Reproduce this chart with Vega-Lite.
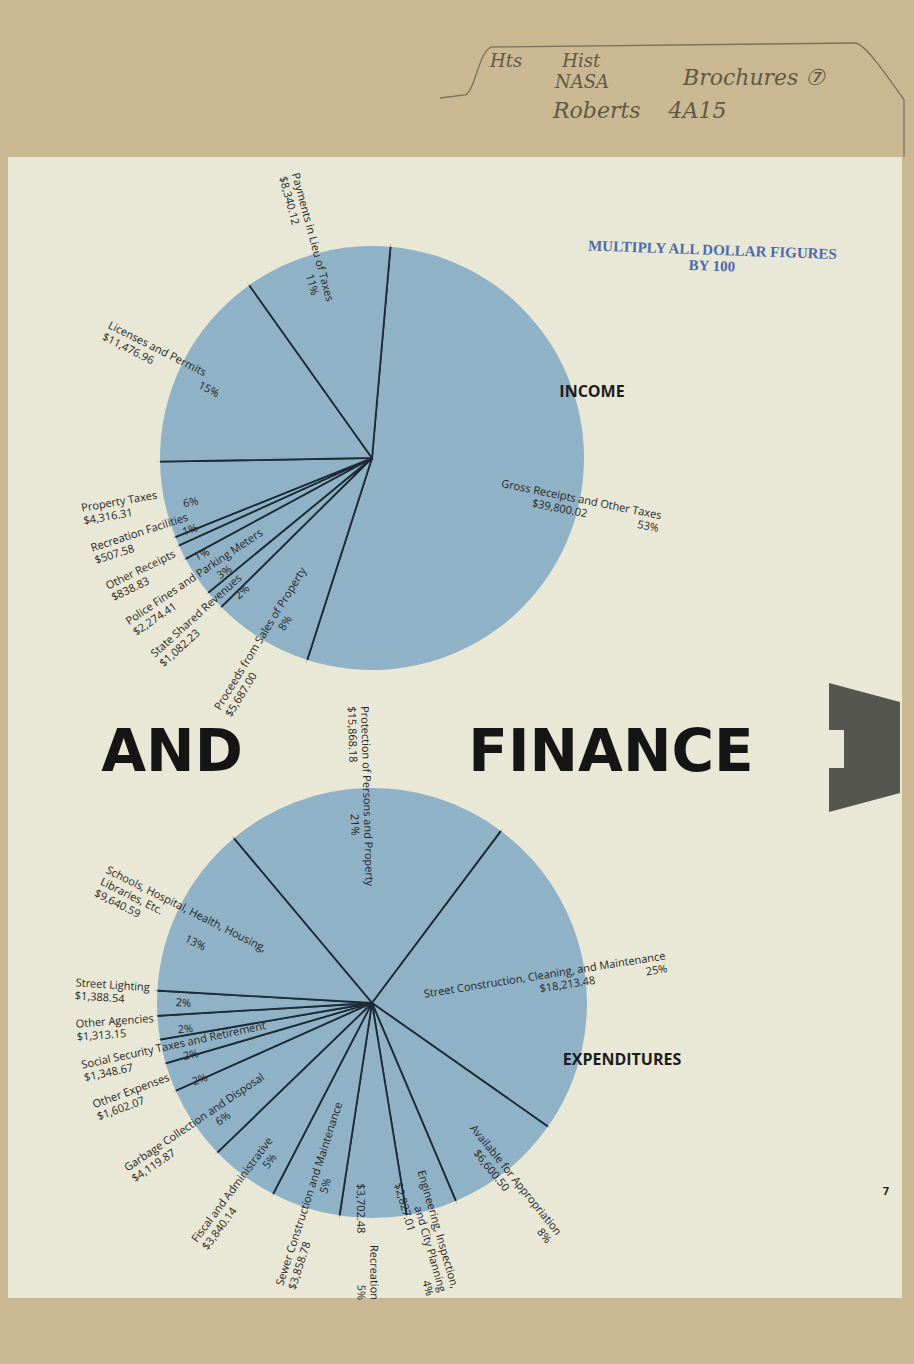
{
  "$schema": "https://vega.github.io/schema/vega-lite/v6.json",
  "width": 894,
  "height": 1141,
  "autosize": {"type": "none"},
  "padding": {"left": 8, "top": 157, "right": 12, "bottom": 66},
  "background": "#cab892",
  "config": {"view": {"stroke": null, "fill": "#e9e8d6"}, "text": {"font": "Open Sans"}},
  "datasets": {
    "budget": [
      {"pie": "Income", "item": "Gross Receipts and Other Taxes", "amount": 39800.02, "pct": 53},
      {"pie": "Income", "item": "Proceeds from Sales of Property", "amount": 5687.00, "pct": 8},
      {"pie": "Income", "item": "State Shared Revenues", "amount": 1082.23, "pct": 2},
      {"pie": "Income", "item": "Police Fines and Parking Meters", "amount": 2274.41, "pct": 3},
      {"pie": "Income", "item": "Other Receipts", "amount": 838.83, "pct": 1},
      {"pie": "Income", "item": "Recreation Facilities", "amount": 507.58, "pct": 1},
      {"pie": "Income", "item": "Property Taxes", "amount": 4316.31, "pct": 6},
      {"pie": "Income", "item": "Licenses and Permits", "amount": 11476.96, "pct": 15},
      {"pie": "Income", "item": "Payments in Lieu of Taxes", "amount": 8340.12, "pct": 11},
      {"pie": "Expenditures", "item": "Protection of Persons and Property", "amount": 15868.18, "pct": 21},
      {"pie": "Expenditures", "item": "Street Construction, Cleaning, and Maintenance", "amount": 18213.48, "pct": 25},
      {"pie": "Expenditures", "item": "Available for Appropriation", "amount": 6600.50, "pct": 8},
      {"pie": "Expenditures", "item": "Engineering, Inspection,\nand City Planning", "amount": 2827.01, "pct": 4},
      {"pie": "Expenditures", "item": "Recreation", "amount": 3702.48, "pct": 5},
      {"pie": "Expenditures", "item": "Sewer Construction and Maintenance", "amount": 3858.78, "pct": 5},
      {"pie": "Expenditures", "item": "Fiscal and Administrative", "amount": 3840.14, "pct": 5},
      {"pie": "Expenditures", "item": "Garbage Collection and Disposal", "amount": 4119.87, "pct": 6},
      {"pie": "Expenditures", "item": "Other Expenses", "amount": 1602.07, "pct": 2},
      {"pie": "Expenditures", "item": "Social Security Taxes and Retirement", "amount": 1348.67, "pct": 2},
      {"pie": "Expenditures", "item": "Other Agencies", "amount": 1313.15, "pct": 2},
      {"pie": "Expenditures", "item": "Street Lighting", "amount": 1388.54, "pct": 2},
      {"pie": "Expenditures", "item": "Schools, Hospital, Health, Housing,\nLibraries, Etc.", "amount": 9640.59, "pct": 13}
    ]
  },
  "encoding": {
    "x": {"field": "pie", "type": "nominal", "scale": {"type": "point", "domain": ["Income", "Expenditures"], "range": [364, 364], "padding": 0}, "axis": null},
    "y": {"field": "pie", "type": "nominal", "scale": {"type": "point", "domain": ["Income", "Expenditures"], "range": [301, 846], "padding": 0}, "axis": null}
  },
  "layer": [
    {
      "data": {"name": "budget"},
      "transform": [
        {"filter": "datum.pie === 'Income'"},
        {"window": [{"op": "row_number", "as": "idx"}]},
        {"joinaggregate": [{"op": "sum", "field": "amount", "as": "total"}]},
        {"stack": "amount", "groupby": ["pie"], "sort": [{"field": "idx", "order": "ascending"}], "as": ["v0", "v1"]},
        {"calculate": "(datum.v0 + datum.v1) / 2 - datum.idx * datum.total * 8 / 360", "as": "adj"},
        {"window": [{"op": "max", "field": "adj", "as": "cm"}], "sort": [{"field": "idx", "order": "ascending"}], "frame": [null, 0]},
        {"calculate": "datum.cm + datum.idx * datum.total * 8 / 360", "as": "lab"},
        {"calculate": "((5 + datum.lab / datum.total * 360) % 360 + 360) % 360", "as": "deg"},
        {"calculate": "datum.deg < 180 ? datum.deg - 90 : datum.deg - 270", "as": "rot"},
        {"calculate": "datum.item + '\\n$' + format(datum.amount, ',.2f') + '\u00a0\u00a0\u00a0\u00a0\u00a0\u00a0\u00a0\u00a0\u00a0\u00a0\u00a0\u00a0\u00a0\u00a0\u00a0\u00a0\u00a0\u00a0' + datum.pct + '%'", "as": "label"}
      ],
      "layer": [
        {
          "mark": {"type": "arc", "outerRadius": 214, "fill": "#8fb2c6", "stroke": "#1d2b37", "strokeWidth": 1.8},
          "encoding": {
            "theta": {"field": "v0", "type": "quantitative", "scale": {"domain": [0, 74323.46], "range": [0.0872665, 6.3704518], "zero": true, "nice": false}},
            "theta2": {"field": "v1"}
          }
        },
        {
          "mark": {"type": "arc", "innerRadius": 212, "outerRadius": 218, "fill": "#e9e8d6"},
          "encoding": {
            "theta": {"field": "v0", "type": "quantitative"},
            "theta2": {"field": "v1"}
          }
        },
        {
          "transform": [{"filter": "datum.deg >= 180"}],
          "mark": {"type": "text", "radius": 295, "align": "left", "baseline": "middle", "lineBreak": "\n", "lineHeight": 13, "fontSize": 11, "fill": "#262626"},
          "encoding": {
            "theta": {"field": "lab", "type": "quantitative", "stack": null},
            "angle": {"field": "rot", "type": "quantitative", "scale": null},
            "text": {"field": "label"}
          }
        },
        {
          "transform": [{"filter": "datum.deg < 180"}],
          "mark": {"type": "text", "radius": 295, "align": "right", "baseline": "middle", "lineBreak": "\n", "lineHeight": 13, "fontSize": 11, "fill": "#262626"},
          "encoding": {
            "theta": {"field": "lab", "type": "quantitative", "stack": null},
            "angle": {"field": "rot", "type": "quantitative", "scale": null},
            "text": {"field": "label"}
          }
        }
      ]
    },
    {
      "data": {"name": "budget"},
      "transform": [
        {"filter": "datum.pie === 'Expenditures'"},
        {"window": [{"op": "row_number", "as": "idx"}]},
        {"joinaggregate": [{"op": "sum", "field": "amount", "as": "total"}]},
        {"stack": "amount", "groupby": ["pie"], "sort": [{"field": "idx", "order": "ascending"}], "as": ["v0", "v1"]},
        {"calculate": "(datum.v0 + datum.v1) / 2 - datum.idx * datum.total * 8 / 360", "as": "adj"},
        {"window": [{"op": "max", "field": "adj", "as": "cm"}], "sort": [{"field": "idx", "order": "ascending"}], "frame": [null, 0]},
        {"calculate": "datum.cm + datum.idx * datum.total * 8 / 360", "as": "lab"},
        {"calculate": "((-40 + datum.lab / datum.total * 360) % 360 + 360) % 360", "as": "deg"},
        {"calculate": "datum.deg < 180 ? datum.deg - 90 : datum.deg - 270", "as": "rot"},
        {"calculate": "datum.item + '\\n$' + format(datum.amount, ',.2f') + '\u00a0\u00a0\u00a0\u00a0\u00a0\u00a0\u00a0\u00a0\u00a0\u00a0\u00a0\u00a0\u00a0\u00a0\u00a0\u00a0\u00a0\u00a0' + datum.pct + '%'", "as": "label"}
      ],
      "layer": [
        {
          "mark": {"type": "arc", "outerRadius": 217, "fill": "#8fb2c6", "stroke": "#1d2b37", "strokeWidth": 1.8},
          "encoding": {
            "theta": {"field": "v0", "type": "quantitative", "scale": {"domain": [0, 74323.46], "range": [-0.6981317, 5.5850536], "zero": true, "nice": false}},
            "theta2": {"field": "v1"}
          }
        },
        {
          "mark": {"type": "arc", "innerRadius": 215, "outerRadius": 221, "fill": "#e9e8d6"},
          "encoding": {
            "theta": {"field": "v0", "type": "quantitative"},
            "theta2": {"field": "v1"}
          }
        },
        {
          "transform": [{"filter": "datum.deg >= 180"}],
          "mark": {"type": "text", "radius": 297, "align": "left", "baseline": "middle", "lineBreak": "\n", "lineHeight": 13, "fontSize": 11, "fill": "#262626"},
          "encoding": {
            "theta": {"field": "lab", "type": "quantitative", "stack": null},
            "angle": {"field": "rot", "type": "quantitative", "scale": null},
            "text": {"field": "label"}
          }
        },
        {
          "transform": [{"filter": "datum.deg < 180"}],
          "mark": {"type": "text", "radius": 297, "align": "right", "baseline": "middle", "lineBreak": "\n", "lineHeight": 13, "fontSize": 11, "fill": "#262626"},
          "encoding": {
            "theta": {"field": "lab", "type": "quantitative", "stack": null},
            "angle": {"field": "rot", "type": "quantitative", "scale": null},
            "text": {"field": "label"}
          }
        }
      ]
    },
    {
      "data": {"values": [{"pie": "Income", "caption": "INCOME"}]},
      "mark": {"type": "text", "dx": 220, "dy": -66, "fontSize": 16, "fontWeight": "bold", "fill": "#1c1c1c"},
      "encoding": {"text": {"field": "caption"}}
    },
    {
      "data": {"values": [{"pie": "Expenditures", "caption": "EXPENDITURES"}]},
      "mark": {"type": "text", "dx": 250, "dy": 57, "fontSize": 16, "fontWeight": "bold", "fill": "#1c1c1c"},
      "encoding": {"text": {"field": "caption"}}
    },
    {
      "data": {"values": [{"pie": "Income", "word": "AND"}]},
      "mark": {"type": "text", "dx": -200, "dy": 296, "font": "DejaVu Sans", "fontSize": 58, "fontWeight": "bold", "fill": "#151515"},
      "encoding": {"text": {"field": "word"}}
    },
    {
      "data": {"values": [{"pie": "Income", "word": "FINANCE"}]},
      "mark": {"type": "text", "dx": 239, "dy": 296, "font": "DejaVu Sans", "fontSize": 58, "fontWeight": "bold", "fill": "#151515"},
      "encoding": {"text": {"field": "word"}}
    },
    {
      "data": {"values": [{"pie": "Income", "tab": "notch"}]},
      "mark": {"type": "point", "shape": "M -0.55 -1 L 0.55 -0.705 L 0.55 0.705 L -0.55 1 L -0.55 0.318 L -0.318 0.318 L -0.318 -0.271 L -0.55 -0.271 Z", "size": 16641, "filled": true, "fill": "#55564f", "opacity": 1, "strokeWidth": 0, "xOffset": 492.5, "yOffset": 289.5},
      "encoding": {}
    },
    {
      "data": {"values": [{"pie": "Income", "tab": "folder tab"}]},
      "mark": {"type": "point", "shape": "M -1 0.112 L -0.892 0.099 C -0.85 0.09 -0.83 -0.108 -0.772 -0.108 L 0.789 -0.125 C 0.83 -0.125 0.93 0.02 1.0 0.12 L 1.0 0.366", "size": 215296, "filled": false, "stroke": "#7b715c", "strokeWidth": 1.3, "opacity": 1, "xOffset": 300, "yOffset": -386},
      "encoding": {}
    },
    {
      "data": {"values": [{"pie": "Income", "stamp": "MULTIPLY ALL DOLLAR FIGURES\nBY 100"}]},
      "mark": {"type": "text", "dx": 333, "dy": -220, "angle": 2, "lineBreak": "\n", "lineHeight": 16, "font": "Liberation Serif", "fontSize": 15, "fontWeight": "bold", "fill": "#3d5ea8", "opacity": 0.9},
      "encoding": {"text": {"field": "stamp"}}
    },
    {
      "data": {"values": [{"pie": "Expenditures", "folio": "7"}]},
      "mark": {"type": "text", "dx": 514, "dy": 189, "fontSize": 11, "fontWeight": "bold", "fill": "#1c1c1c"},
      "encoding": {"text": {"field": "folio"}}
    },
    {
      "data": {"values": [{"pie": "Income", "note": "Hts\u00a0\u00a0\u00a0\u00a0\u00a0\u00a0\u00a0Hist"}]},
      "mark": {"type": "text", "align": "left", "dx": 118, "dy": -396, "font": "DejaVu Serif", "fontStyle": "italic", "fontSize": 18, "fill": "#5f5947"},
      "encoding": {"text": {"field": "note"}}
    },
    {
      "data": {"values": [{"pie": "Income", "note": "NASA"}]},
      "mark": {"type": "text", "align": "left", "dx": 183, "dy": -375, "font": "DejaVu Serif", "fontStyle": "italic", "fontSize": 18, "fill": "#5f5947"},
      "encoding": {"text": {"field": "note"}}
    },
    {
      "data": {"values": [{"pie": "Income", "note": "Brochures \u2466"}]},
      "mark": {"type": "text", "align": "left", "dx": 311, "dy": -380, "font": "DejaVu Serif", "fontStyle": "italic", "fontSize": 22, "fill": "#5f5947"},
      "encoding": {"text": {"field": "note"}}
    },
    {
      "data": {"values": [{"pie": "Income", "note": "Roberts\u00a0\u00a0\u00a0\u00a04A15"}]},
      "mark": {"type": "text", "align": "left", "dx": 181, "dy": -347, "font": "DejaVu Serif", "fontStyle": "italic", "fontSize": 22, "fill": "#5f5947"},
      "encoding": {"text": {"field": "note"}}
    }
  ],
  "resolve": {"scale": {"theta": "independent"}}
}
